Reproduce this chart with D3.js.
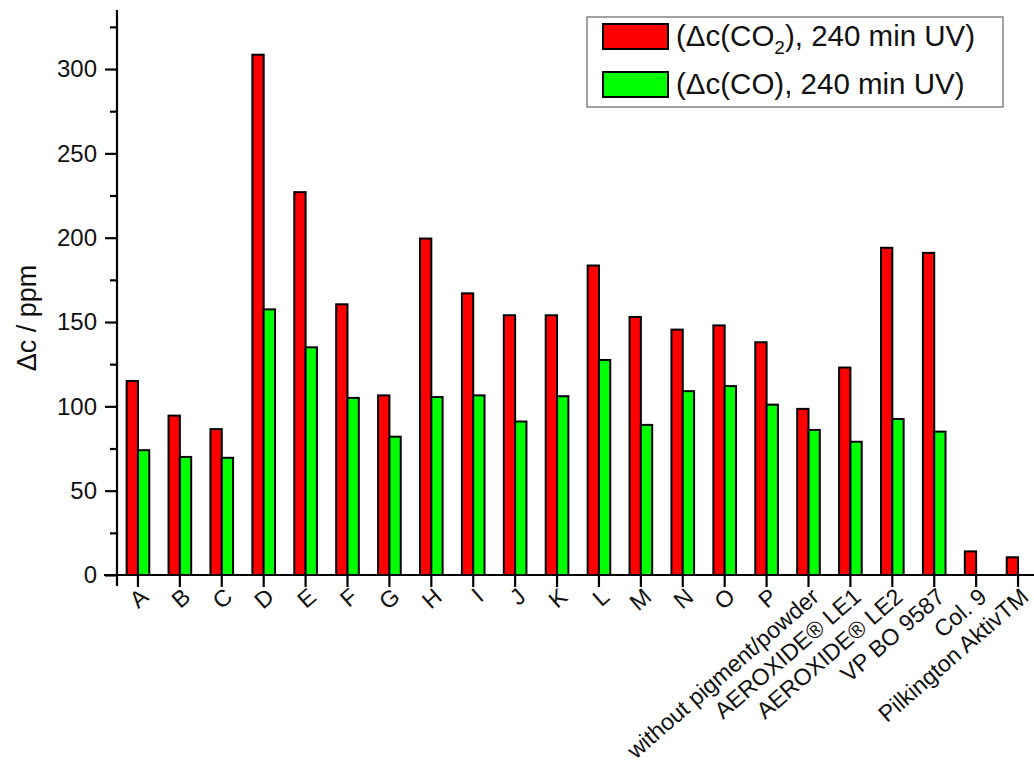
<!DOCTYPE html>
<html>
<head>
<meta charset="utf-8">
<script src="https://cdn.jsdelivr.net/npm/d3@7"></script>
<style>
  body { margin: 0; background: #fff; }
  text { font-family: "Liberation Sans", Arial, sans-serif; }
</style>
</head>
<body>
<div id="chart"></div>
<script>
// Sample names along the x axis
const categories = ['A', 'B', 'C', 'D', 'E', 'F', 'G', 'H', 'I', 'J', 'K', 'L', 'M', 'N', 'O', 'P',
  'without pigment/powder', 'AEROXIDE® LE1', 'AEROXIDE® LE2', 'VP BO 9587', 'Col. 9', 'Pilkington AktivTM'];

// Δc(CO2) after 240 min UV (ppm)
const co2Values = [115, 94.5, 86.5, 308.5, 227, 160.5, 106.5, 199.5, 167, 154, 154, 183.5, 153, 145.5,
  148, 138, 98.5, 123, 194, 191, 14, 10.5];

// Δc(CO) after 240 min UV (ppm); no CO bar for the last two
const coValues = [74, 70, 69.5, 157.5, 135, 105, 82, 105.5, 106.5, 91, 106, 127.5, 89, 109,
  112, 101, 86, 79, 92.5, 85, null, null];

const seriesNames = ['co2', 'co'];
const seriesColors = ['#ff0000', '#00ff00'];
const yTicks = [0, 50, 100, 150, 200, 250, 300];
const yMinorTicks = d3.range(25, 335, 50);

const WIDTH = 1034;
const HEIGHT = 767;

const svg = d3.select('#chart')
  .append('svg')
  .attr('width', WIDTH)
  .attr('height', HEIGHT);

// Scales
const x = d3.scaleBand()
  .domain(categories)
  .range([117, 1039])
  .paddingInner(0.46)
  .paddingOuter(0.23);

const xSub = d3.scaleBand()
  .domain(seriesNames)
  .range([0, x.bandwidth()]);

const y = d3.scaleLinear()
  .domain([0, 335])
  .range([575, 10]);

// Bars
const groups = svg.selectAll('.cat')
  .data(categories.map((c, i) => ({ cat: c, co2: co2Values[i], co: coValues[i] })))
  .enter()
  .append('g')
  .attr('class', 'cat')
  .attr('transform', (d) => `translate(${x(d.cat)},0)`);

groups.selectAll('rect')
  .data((d) => seriesNames.map((s) => ({ key: s, value: d[s] })).filter((e) => e.value != null))
  .enter()
  .append('rect')
  .attr('x', (d) => xSub(d.key))
  .attr('width', xSub.bandwidth())
  .attr('y', (d) => y(d.value))
  .attr('height', (d) => y(0) - y(d.value))
  .attr('fill', (d) => seriesColors[seriesNames.indexOf(d.key)])
  .attr('stroke', '#000')
  .attr('stroke-width', 2);

// Y axis with major and minor ticks
const yAxis = svg.append('g')
  .attr('transform', `translate(${x.range()[0]},0)`)
  .call(d3.axisLeft(y).tickValues(yTicks).tickSize(12).tickPadding(8).tickSizeOuter(0));

svg.append('g')
  .attr('transform', `translate(${x.range()[0]},0)`)
  .call(d3.axisLeft(y).tickValues(yMinorTicks).tickSize(7).tickFormat('').tickSizeOuter(0))
  .select('.domain').remove();

yAxis.select('.domain').attr('d', `M0,${y(335)}V586`);
svg.selectAll('.tick line, .domain').attr('stroke', '#000').attr('stroke-width', 2.2);
yAxis.selectAll('text')
  .attr('font-size', 24)
  .attr('fill', '#111');

// X axis
const xAxis = svg.append('g')
  .attr('transform', `translate(0,${y(0)})`)
  .call(d3.axisBottom(x).tickSize(12).tickSizeOuter(0));

xAxis.select('.domain').attr('d', 'M104,0H1034').attr('stroke', '#000').attr('stroke-width', 2.2);
xAxis.selectAll('.tick line').attr('stroke', '#000').attr('stroke-width', 2.2);
xAxis.selectAll('text')
  .attr('font-size', 23.2)
  .attr('fill', '#111')
  .attr('text-anchor', 'end')
  .attr('dy', 0)
  .attr('y', 0)
  .attr('transform', 'translate(12,24) rotate(-41)');

// Y axis title
svg.append('text')
  .attr('transform', 'translate(36,318) rotate(-90)')
  .attr('text-anchor', 'middle')
  .attr('font-size', 27)
  .attr('fill', '#111')
  .text('Δc / ppm');

// Legend
const legend = svg.append('g');
legend.append('rect')
  .attr('x', 587).attr('y', 17)
  .attr('width', 416).attr('height', 90)
  .attr('fill', '#fff')
  .attr('stroke', '#666')
  .attr('stroke-width', 1.2);

const legendLabels = [
  ['(Δc(CO', '2', '), 240 min UV)'],
  ['(Δc(CO', '', '), 240 min UV)']
];

seriesNames.forEach((s, i) => {
  const rowY = 24 + i * 48;
  legend.append('rect')
    .attr('x', 603).attr('y', rowY)
    .attr('width', 65).attr('height', 25)
    .attr('fill', seriesColors[i])
    .attr('stroke', '#000')
    .attr('stroke-width', 2);
  const t = legend.append('text')
    .attr('x', 676).attr('y', rowY + 22)
    .attr('font-size', 29.5)
    .attr('fill', '#111');
  t.append('tspan').text(legendLabels[i][0]);
  if (legendLabels[i][1]) {
    t.append('tspan').attr('font-size', 19).attr('dy', 8).text(legendLabels[i][1]);
    t.append('tspan').attr('dy', -8).text(legendLabels[i][2]);
  } else {
    t.append('tspan').text(legendLabels[i][2]);
  }
});
</script>
</body>
</html>
